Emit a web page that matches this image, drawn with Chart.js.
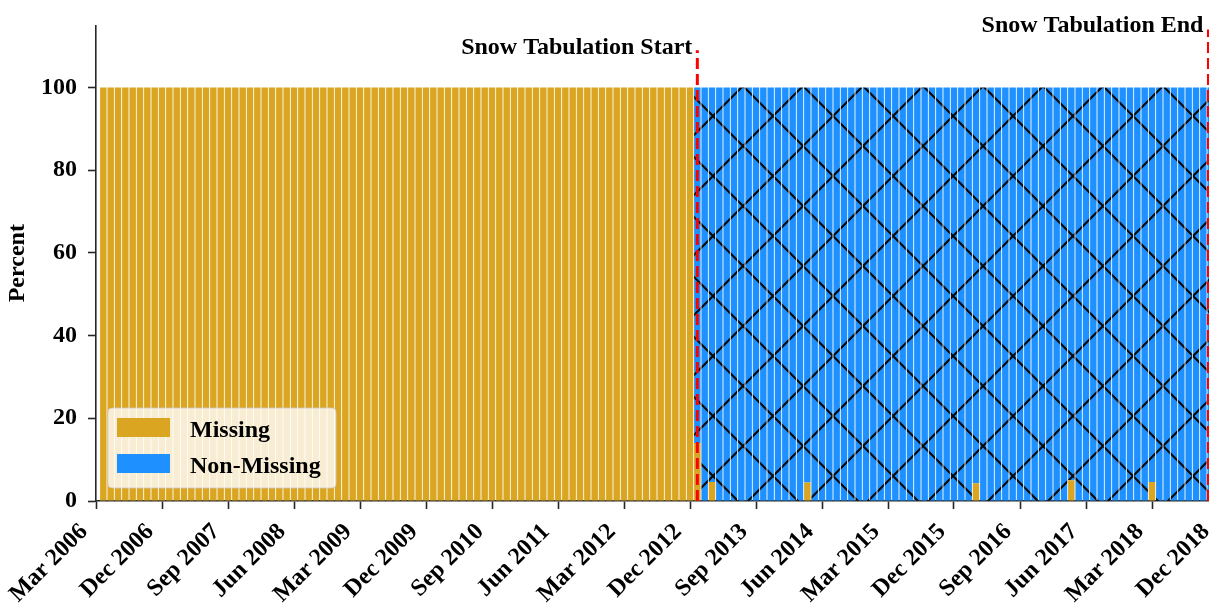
<!DOCTYPE html>
<html lang="en">
<head>
<meta charset="UTF-8">
<title>Snow Tabulation - Missing vs Non-Missing</title>
<script src="https://cdn.jsdelivr.net/npm/chart.js"></script>
<style>
  html, body { margin: 0; padding: 0; background: #ffffff; overflow: hidden; }
  canvas { display: block; }
</style>
</head>
<body>
<canvas id="grafico" width="1209" height="607"></canvas>
<script>
// x tick labels, one every 9 months starting Mar 2006
const tickLabels = ['Mar 2006', 'Dec 2006', 'Sep 2007', 'Jun 2008', 'Mar 2009', 'Dec 2009',
  'Sep 2010', 'Jun 2011', 'Mar 2012', 'Dec 2012', 'Sep 2013', 'Jun 2014',
  'Mar 2015', 'Dec 2015', 'Sep 2016', 'Jun 2017', 'Mar 2018', 'Dec 2018'];

// monthly percent missing, Mar 2006 .. Dec 2018
const missing = [
  100, 100, 100, 100, 100, 100, 100, 100, 100, 100,                 // 2006 (Mar-Dec)
  100, 100, 100, 100, 100, 100, 100, 100, 100, 100, 100, 100,       // 2007
  100, 100, 100, 100, 100, 100, 100, 100, 100, 100, 100, 100,       // 2008
  100, 100, 100, 100, 100, 100, 100, 100, 100, 100, 100, 100,       // 2009
  100, 100, 100, 100, 100, 100, 100, 100, 100, 100, 100, 100,       // 2010
  100, 100, 100, 100, 100, 100, 100, 100, 100, 100, 100, 100,       // 2011
  100, 100, 100, 100, 100, 100, 100, 100, 100, 100, 100, 14,        // 2012
  0, 4.6, 0, 0, 0, 0, 0, 0, 0, 0, 0, 0,                             // 2013
  0, 0, 4.5, 0, 0, 0, 0, 0, 0, 0, 0, 0,                             // 2014
  0, 0, 0, 0, 0, 0, 0, 0, 0, 0, 0, 0,                               // 2015
  0, 4.3, 0, 0, 0, 0, 0, 0, 0, 0, 0, 0,                             // 2016
  0, 0, 5.0, 0, 0, 0, 0, 0, 0, 0, 0, 0,                             // 2017
  0, 4.6, 0, 0, 0, 0, 0, 0, 0, 0, 0, 0                              // 2018
];

// monthly percent non-missing
const nonMissing = [
  0, 0, 0, 0, 0, 0, 0, 0, 0, 0,                                     // 2006 (Mar-Dec)
  0, 0, 0, 0, 0, 0, 0, 0, 0, 0, 0, 0,                               // 2007
  0, 0, 0, 0, 0, 0, 0, 0, 0, 0, 0, 0,                               // 2008
  0, 0, 0, 0, 0, 0, 0, 0, 0, 0, 0, 0,                               // 2009
  0, 0, 0, 0, 0, 0, 0, 0, 0, 0, 0, 0,                               // 2010
  0, 0, 0, 0, 0, 0, 0, 0, 0, 0, 0, 0,                               // 2011
  0, 0, 0, 0, 0, 0, 0, 0, 0, 0, 0, 86,                              // 2012
  100, 95.4, 100, 100, 100, 100, 100, 100, 100, 100, 100, 100,      // 2013
  100, 100, 95.5, 100, 100, 100, 100, 100, 100, 100, 100, 100,      // 2014
  100, 100, 100, 100, 100, 100, 100, 100, 100, 100, 100, 100,       // 2015
  100, 95.7, 100, 100, 100, 100, 100, 100, 100, 100, 100, 100,      // 2016
  100, 100, 95.0, 100, 100, 100, 100, 100, 100, 100, 100, 100,      // 2017
  100, 95.4, 100, 100, 100, 100, 100, 100, 100, 100, 100, 100       // 2018
];

// tabulation markers (month index from Mar 2006)
const eventMonths = [82, 151.7];
const eventLabels = ['Snow Tabulation Start', 'Snow Tabulation End'];
const eventTops = [109, 114];
const eventTextLevels = [108, 113.4];

const legendLabels = ['Missing', 'Non-Missing'];
const colorMissing = '#DAA520';
const colorNonMissing = '#1E90FF';
const serif = '"Liberation Serif", "Times New Roman", serif';

Chart.defaults.font.family = serif;
Chart.defaults.color = '#000';

const canvas = document.getElementById('grafico');

// crossed hatch ("x") over the blue bars
function hatchPattern() {
    const tile = document.createElement('canvas');
    tile.width = 60;
    tile.height = 60;
    const t = tile.getContext('2d');
    t.fillStyle = colorNonMissing;
    t.fillRect(0, 0, 60, 60);
    t.strokeStyle = '#0a0a0a';
    t.lineWidth = 2.2;
    t.beginPath();
    for (let k = -1; k <= 1; k++) {
        t.moveTo(-10, -10 + 60 * k); t.lineTo(70, 70 + 60 * k);
        t.moveTo(-10, 70 + 60 * k); t.lineTo(70, -10 + 60 * k);
    }
    t.stroke();
    const p = canvas.getContext('2d').createPattern(tile, 'repeat');
    p.setTransform(new DOMMatrix().translate(53, 56));
    return p;
}

// the original figure is cropped on the right: let the x axis run past the canvas edge
const cropPlugin = {
    id: 'cropRight',
    afterLayout(chart) {
        const x = chart.scales.x;
        const extra = 1218 - x.right;
        x.right += extra;
        x.width += extra;
        chart.chartArea.right += extra;
        chart.chartArea.width += extra;
        x.configure();
    }
};

// red dashed lines with their captions
const eventPlugin = {
    id: 'events',
    afterDatasetsDraw(chart) {
        const { ctx, scales: { x, y } } = chart;
        ctx.save();
        eventMonths.forEach((m, k) => {
            const px = x.getPixelForValue(m);
            ctx.strokeStyle = '#ff0000';
            ctx.lineWidth = 3;
            ctx.setLineDash([11, 5]);
            ctx.beginPath();
            ctx.moveTo(px, y.getPixelForValue(0));
            ctx.lineTo(px, y.getPixelForValue(eventTops[k]));
            ctx.stroke();
            ctx.setLineDash([]);
            ctx.font = 'bold 24px ' + serif;
            ctx.fillStyle = '#000';
            ctx.textAlign = 'right';
            ctx.textBaseline = 'alphabetic';
            ctx.fillText(eventLabels[k], Math.min(px, 1210) - 5, y.getPixelForValue(eventTextLevels[k]));
        });
        ctx.restore();
    }
};

// legend box in the lower left corner of the plot
const legendPlugin = {
    id: 'legendBox',
    afterDraw(chart) {
        const ctx = chart.ctx;
        const a = chart.chartArea;
        const bx = a.left + 12, by = a.bottom - 93, bw = 228, bh = 80;
        ctx.save();
        ctx.beginPath();
        ctx.roundRect(bx, by, bw, bh, 4);
        ctx.fillStyle = 'rgba(255,255,255,0.8)';
        ctx.fill();
        ctx.strokeStyle = 'rgba(204,204,204,0.8)';
        ctx.lineWidth = 1;
        ctx.stroke();
        const colors = [colorMissing, colorNonMissing];
        ctx.font = 'bold 24px ' + serif;
        ctx.textAlign = 'left';
        ctx.textBaseline = 'alphabetic';
        legendLabels.forEach((lab, k) => {
            const ry = by + 10 + k * 36;
            ctx.fillStyle = colors[k];
            ctx.fillRect(bx + 9, ry, 53, 19);
            ctx.fillStyle = '#000';
            ctx.fillText(lab, bx + 82, ry + 19);
        });
        ctx.restore();
    }
};

const axisFont = { family: serif, size: 24, weight: 'bold' };
const axisColor = '#262626';

new Chart(canvas, {
    type: 'bar',
    data: {
        datasets: [
            {
                label: legendLabels[0],
                data: missing.map((v, i) => ({ x: i + 1, y: v })),
                backgroundColor: colorMissing,
                borderWidth: 0,
                stack: 'pct',
                barPercentage: 0.88,
                categoryPercentage: 1
            },
            {
                label: legendLabels[1],
                data: nonMissing.map((v, i) => ({ x: i + 1, y: v })),
                backgroundColor: hatchPattern(),
                borderWidth: 0,
                stack: 'pct',
                barPercentage: 0.88,
                categoryPercentage: 1
            }
        ]
    },
    options: {
        responsive: false,
        animation: false,
        layout: { padding: { left: 0, right: 0, top: 23, bottom: 0 } },
        plugins: {
            legend: { display: false },
            tooltip: { enabled: false }
        },
        scales: {
            x: {
                type: 'linear',
                min: 0,
                max: 153,
                offset: false,
                z: 1,
                border: { display: true, color: axisColor, width: 1.6 },
                grid: { display: true, offset: false, drawOnChartArea: false, drawTicks: true, tickLength: 8, tickWidth: 1.6, tickColor: axisColor },
                ticks: {
                    stepSize: 9,
                    autoSkip: false,
                    includeBounds: false,
                    maxRotation: 45,
                    minRotation: 45,
                    padding: 9,
                    labelOffset: -12,
                    color: '#000',
                    font: axisFont,
                    callback: v => tickLabels[Math.round(v / 9)]
                },
                afterFit(scale) {
                    scale.height = 106;
                    scale.paddingRight = 0;
                }
            },
            y: {
                stacked: true,
                min: 0,
                max: 115,
                z: 1,
                border: { display: true, color: axisColor, width: 1.6 },
                grid: { display: true, drawOnChartArea: false, drawTicks: true, tickLength: 8, tickWidth: 1.6, tickColor: axisColor },
                ticks: {
                    stepSize: 20,
                    includeBounds: false,
                    padding: 11,
                    color: '#000',
                    font: axisFont
                },
                title: {
                    display: true,
                    text: 'Percent',
                    color: '#000',
                    font: axisFont,
                    padding: { top: 3, bottom: 0 }
                },
                afterFit(scale) { scale.width = 96; }
            }
        }
    },
    plugins: [cropPlugin, eventPlugin, legendPlugin]
});
</script>
</body>
</html>
